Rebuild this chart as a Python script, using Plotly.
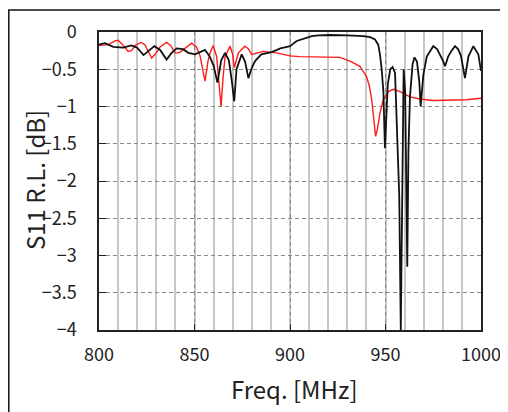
import plotly.graph_objects as go

# Black trace (S11, sample A)
freq_black = [800, 803, 807.5, 812.7, 817, 820, 823.3, 826.7, 829, 832, 835.4, 838, 840.7, 844, 846.8,
              850.3, 853.8, 855.5, 858, 860, 862, 864, 866, 868, 869.5, 870.8, 872, 874.7, 876.5, 878.2,
              880, 881.7, 885, 890.4, 895, 900, 903.5, 907.9, 911.4, 915, 921, 930, 938.4, 942, 944.5,
              946.2, 947.1, 948, 948.9, 949.7, 950.6, 951.2, 952.5, 953.7, 955, 955.5, 956.3, 957.2, 958,
              958.8, 959.5, 960.3, 961.4, 962, 962.8, 964.2, 965.2, 966.5, 967.7, 968.4, 969.8, 971.6,
              973.3, 975, 977, 978.5, 980, 981.2, 982.8, 984.6, 986.4, 988, 989.5, 991.6, 993.4, 996,
              998.6, 1000]
s11_black = [-0.17, -0.15, -0.2, -0.21, -0.18, -0.21, -0.31, -0.24, -0.19, -0.24, -0.37, -0.28, -0.22, -0.23, -0.28,
             -0.3, -0.26, -0.24, -0.33, -0.45, -0.68, -0.38, -0.28, -0.38, -0.65, -0.93, -0.5, -0.3, -0.4, -0.62,
             -0.48, -0.39, -0.3, -0.27, -0.22, -0.19, -0.12, -0.08, -0.055, -0.045, -0.04, -0.045, -0.055, -0.07, -0.1,
             -0.17, -0.3, -0.5, -0.8, -1.56, -1.1, -0.7, -0.5, -0.47, -0.55, -0.9, -1.3, -2.2, -4.0,
             -1.5, -0.5, -0.8, -3.15, -1.6, -0.87, -0.43, -0.34, -0.4, -0.67, -1.0, -0.58, -0.33,
             -0.26, -0.19, -0.23, -0.3, -0.38, -0.46, -0.33, -0.25, -0.19, -0.23, -0.32, -0.62, -0.33, -0.19,
             -0.3, -0.52]

# Red trace (S11, sample B)
freq_red = [800, 804.9, 808.4, 810, 812, 815.3, 817, 819, 822, 824, 827.6, 830, 832, 835.4, 837.5, 839.8,
            842, 845, 848.5, 851, 852.9, 855.5, 857, 858.1, 859.8, 861.6, 862.8, 863.9, 865, 866, 868.6,
            870, 870.8, 872, 873, 876.4, 878, 880, 882.5, 886, 893, 900, 905.2, 915, 922.6, 926.2, 931.4,
            936.6, 940.1, 941.5, 942.8, 944, 944.8, 945.8, 947.1, 948.8, 951.5, 954.1, 957.6, 962.8, 968,
            975, 983, 992.5, 996, 1000]
s11_red = [-0.18, -0.17, -0.12, -0.11, -0.16, -0.26, -0.25, -0.18, -0.14, -0.17, -0.35, -0.28, -0.2, -0.14, -0.18, -0.28,
           -0.28, -0.22, -0.15, -0.2, -0.32, -0.66, -0.4, -0.28, -0.18, -0.33, -0.7, -1.0, -0.6, -0.33, -0.19,
           -0.3, -0.48, -0.35, -0.28, -0.19, -0.22, -0.3, -0.28, -0.26, -0.28, -0.32, -0.33, -0.33, -0.33, -0.34, -0.39,
           -0.46, -0.6, -0.72, -0.91, -1.25, -1.4, -1.3, -1.09, -0.91, -0.8, -0.77, -0.8, -0.87, -0.9,
           -0.92, -0.92, -0.91, -0.9, -0.89]

x_ticks = [800, 850, 900, 950, 1000]
y_ticks = [0, -0.5, -1, -1.5, -2, -2.5, -3, -3.5, -4]

FONT = "Noto Sans CJK JP, Liberation Sans, sans-serif"

# page has an 8px body margin; figure is sized so plot area lands at x 99..481, y 32..330
OFF = 8
L, T, PW, PH = 99 - OFF, 32 - OFF, 382, 298


def px(page_x):
    return (page_x - 99) / PW


def py(page_y):
    return (330 - page_y) / PH


fig = go.Figure()
fig.add_trace(go.Scatter(x=freq_red, y=s11_red, mode="lines",
                         line=dict(color="#ff1a1a", width=1.4), showlegend=False))
fig.add_trace(go.Scatter(x=freq_black, y=s11_black, mode="lines",
                         line=dict(color="#111111", width=1.8), showlegend=False))

fig.update_layout(
    template="none",
    width=508 - OFF, height=412 - OFF,
    margin=dict(l=L, r=508 - OFF - L - PW, t=T, b=412 - OFF - T - PH, pad=0),
    paper_bgcolor="white", plot_bgcolor="white",
    font=dict(family=FONT, color="#222222"),
    xaxis=dict(range=[800, 1000], tickvals=x_ticks, ticks="inside", ticklen=6, tickcolor="#222",
               showline=True, linecolor="#222", linewidth=1.5, mirror=True, automargin=False,
               showgrid=True, gridcolor="#8a8a8a", gridwidth=1, griddash="4px,3px",
               minor=dict(dtick=10, tick0=800, showgrid=True, gridcolor="#c8c8c8", gridwidth=1.6,
                          griddash="solid", ticks=""),
               zeroline=False, tickfont=dict(size=18, family=FONT), ticklabelstandoff=8),
    yaxis=dict(range=[-4, 0], tickvals=y_ticks, ticks="inside", ticklen=7, tickcolor="#222",
               showline=True, linecolor="#222", linewidth=1.5, mirror=True, automargin=False,
               showgrid=True, gridcolor="#8a8a8a", gridwidth=1.2, griddash="4px,3px",
               zeroline=False, tickfont=dict(size=18, family=FONT), ticklabelstandoff=17),
    annotations=[
        dict(text="Freq. [MHz]", xref="paper", yref="paper", x=px(294), y=py(389),
             showarrow=False, xanchor="center", yanchor="middle", font=dict(size=24, family=FONT, color="#222")),
        dict(text="S11 R.L. [dB]", xref="paper", yref="paper", x=px(35), y=py(180),
             showarrow=False, xanchor="center", yanchor="middle", textangle=-90,
             font=dict(size=24, family=FONT, color="#222")),
    ],
    shapes=[
        dict(type="rect", xref="paper", yref="paper",
             x0=px(8.8), x1=px(507), y0=py(430), y1=py(10),
             line=dict(color="#111", width=1.5), layer="below"),
    ],
)

fig.write_html("out.html")
